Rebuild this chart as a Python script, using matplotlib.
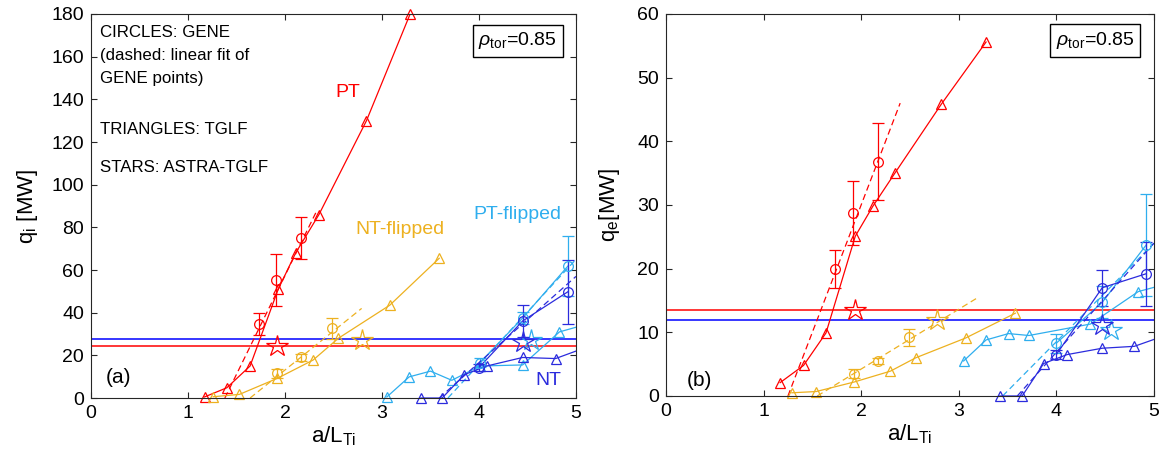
import matplotlib
matplotlib.use("Agg")
import matplotlib.pyplot as plt

plt.rcParams['font.family'] = ['Liberation Sans', 'DejaVu Sans']
plt.rcParams['mathtext.fontset'] = 'custom'
plt.rcParams['mathtext.rm'] = 'Liberation Sans'
plt.rcParams['mathtext.it'] = 'Liberation Sans:italic'

RED = '#FF0000'
ORANGE = '#EDB120'
CYAN = '#2FAEEE'
BLUE = '#2B2BDD'

#___________ panel (a): q_i ______________
# PT
pt_tglf_x = [1.17, 1.40, 1.64, 1.93, 2.11, 2.35, 2.84, 3.29]
pt_tglf_qi = [0.5, 4.8, 15, 51, 68, 86, 130, 180]
pt_gene_x = [1.73, 1.91, 2.16]
pt_gene_qi = [34.7, 55.3, 75]
pt_gene_qi_err = [5, 12, 10]
pt_fit_x_a = [1.38, 2.33]
pt_fit_qi = [0, 88]
pt_star_qi = [1.92, 24.4]
# NT-flipped
ntf_tglf_x = [1.26, 1.53, 1.92, 2.29, 2.55, 3.08, 3.59]
ntf_tglf_qi = [0.6, 1.7, 9.2, 17.8, 28, 43.5, 65.5]
ntf_gene_x = [1.92, 2.16, 2.48]
ntf_gene_qi = [11.6, 19, 32.7]
ntf_gene_qi_err = [2, 1.5, 5]
ntf_fit_x_a = [1.64, 2.79]
ntf_fit_qi = [0, 42]
ntf_star_qi = [2.79, 27.2]
# PT-flipped
ptf_tglf_x_a = [3.05, 3.28, 3.50, 3.72, 4.01, 4.45, 4.83, 5.3]
ptf_tglf_qi = [0.5, 9.9, 12.6, 8.3, 15, 15.5, 31, 37]
ptf_gene_x = [4.01, 4.45, 4.92]
ptf_gene_qi = [16.6, 37.5, 62]
ptf_gene_qi_err = [2, 3, 14]
ptf_fit_x_a = [3.68, 5.0]
ptf_fit_qi = [0, 65]
ptf_star_qi = [4.54, 27]
# NT
nt_tglf_x_a = [3.40, 3.62, 3.85, 4.08, 4.45, 4.79, 5.3]
nt_tglf_qi = [0, 0, 11, 15, 19, 18.5, 27]
nt_gene_x = [4.0, 4.45, 4.92]
nt_gene_qi = [14.3, 36.1, 49.9]
nt_gene_qi_err = [1.5, 7.5, 15]
nt_fit_x_a = [3.59, 5.0]
nt_fit_qi = [0, 57]
nt_star_qi = [4.45, 26.4]
astra_pt_qi = 24.4
astra_nt_qi = 27.8

#___________ panel (b): q_e ______________
pt_tglf_x_b = [1.17, 1.41, 1.64, 1.94, 2.12, 2.35, 2.82, 3.28]
pt_tglf_qe = [2.1, 4.8, 9.9, 25.1, 29.8, 35.1, 45.8, 55.6]
pt_gene_x_b = [1.73, 1.92, 2.17]
pt_gene_qe = [19.9, 28.7, 36.8]
pt_gene_qe_err = [3, 5, 6]
pt_fit_x_b = [1.25, 2.4]
pt_fit_qe = [0, 46]
pt_star_qe = [1.94, 13.5]

ntf_tglf_x_b = [1.29, 1.54, 1.93, 2.30, 2.56, 3.07, 3.58]
ntf_tglf_qe = [0.5, 0.7, 2.2, 3.9, 6.0, 9.1, 13]
ntf_gene_x_b = [1.93, 2.17, 2.49]
ntf_gene_qe = [3.5, 5.5, 9.2]
ntf_gene_qe_err = [0.7, 0.5, 1.3]
ntf_fit_x_b = [1.55, 3.2]
ntf_fit_qe = [0, 15.5]
ntf_star_qe = [2.78, 11.9]

ptf_tglf_x_b = [3.05, 3.28, 3.51, 3.72, 4.35, 4.84, 5.3]
ptf_tglf_qe = [5.5, 8.8, 9.8, 9.5, 11.3, 16.4, 18.3]
ptf_gene_x_b = [4.0, 4.47, 4.92]
ptf_gene_qe = [8.3, 14.7, 23.7]
ptf_gene_qe_err = [1.5, 2.5, 8]
ptf_fit_x_b = [3.45, 5.0]
ptf_fit_qe = [0, 24]
ptf_star_qe = [4.56, 10.4]

nt_tglf_x_b = [3.42, 3.65, 3.87, 4.11, 4.47, 4.80, 5.3]
nt_tglf_qe = [0, 0, 5.1, 6.5, 7.5, 7.8, 10.5]
nt_gene_x_b = [4.0, 4.47, 4.92]
nt_gene_qe = [6.5, 17, 19.2]
nt_gene_qe_err = [0.7, 2.8, 5]
nt_fit_x_b = [3.6, 5.0]
nt_fit_qe = [0, 24]
nt_star_qe = [4.47, 11.2]
astra_pt_qe = 13.5
astra_nt_qe = 12.0


def series(ax, tx, ty, gx, gy, ge, fx, fy, star, col, join_gene=False):
    # line is clipped at the frame, markers are not (like matlab)
    ax.plot(tx, ty, '-', color=col, lw=0.9)
    inside = [(x, y) for x, y in zip(tx, ty) if x <= 5]
    ax.plot([p[0] for p in inside], [p[1] for p in inside], '^', color=col,
            ms=7, mfc='none', mew=0.9, clip_on=False)
    ax.errorbar(gx, gy, yerr=ge, fmt='o', color=col, ms=7, mfc='none',
                mew=0.9, elinewidth=0.9, capsize=4)
    if join_gene:
        ax.plot(gx, gy, '-', color=col, lw=0.9)
    ax.plot(fx, fy, '--', color=col, lw=0.9, dashes=(5, 3))
    ax.plot(star[0], star[1], '*', color=col, ms=16, mfc='none', mew=0.9,
            clip_on=False)


def style(ax, ymax, ystep, ylabel, tag):
    ax.set_xlim(0, 5)
    ax.set_ylim(0, ymax)
    ax.set_xticks(range(6))
    ax.set_yticks(range(0, ymax + 1, ystep))
    ax.tick_params(direction='in', top=True, right=True, length=4,
                   labelsize=14, color='#262626', width=0.8, pad=5)
    for s in ax.spines.values():
        s.set_color('#262626')
        s.set_linewidth(0.8)
        s.set_zorder(5)
    ax.set_xlabel(r'a/L$_{\rm Ti}$', fontsize=16)
    ax.set_ylabel(ylabel, fontsize=16)
    ax.xaxis.set_label_coords(0.5, -0.07)
    ax.text(0.88, 0.93, r'$\rho_{\rm tor}$=0.85', transform=ax.transAxes,
            ha='center', va='center', fontsize=14,
            bbox=dict(boxstyle='square,pad=0.3', fc='white', ec='black', lw=1))
    ax.text(tag[0], tag[1], tag[2], fontsize=15, ha='center', va='center')


fig = plt.figure(figsize=(11.61, 4.62), dpi=100)
ax1 = fig.add_axes([0.0784, 0.1385, 0.4177, 0.8312])
ax2 = fig.add_axes([0.5736, 0.1429, 0.4203, 0.8268])

ax1.axhline(astra_nt_qi, color='#0000FF', lw=1.1)
ax1.axhline(astra_pt_qi, color=RED, lw=1.1)
series(ax1, pt_tglf_x, pt_tglf_qi, pt_gene_x, pt_gene_qi, pt_gene_qi_err,
       pt_fit_x_a, pt_fit_qi, pt_star_qi, RED)
series(ax1, ntf_tglf_x, ntf_tglf_qi, ntf_gene_x, ntf_gene_qi, ntf_gene_qi_err,
       ntf_fit_x_a, ntf_fit_qi, ntf_star_qi, ORANGE)
series(ax1, ptf_tglf_x_a, ptf_tglf_qi, ptf_gene_x, ptf_gene_qi, ptf_gene_qi_err,
       ptf_fit_x_a, ptf_fit_qi, ptf_star_qi, CYAN, join_gene=True)
series(ax1, nt_tglf_x_a, nt_tglf_qi, nt_gene_x, nt_gene_qi, nt_gene_qi_err,
       nt_fit_x_a, nt_fit_qi, nt_star_qi, BLUE, join_gene=True)
style(ax1, 180, 20, r'q$_{\rm i}$ [MW]', (0.28, 9.5, '(a)'))
ax1.yaxis.set_label_coords(-0.105, 0.5)

ax1.text(2.65, 143, 'PT', color=RED, fontsize=14, ha='center', va='center')
ax1.text(3.19, 79, 'NT-flipped', color=ORANGE, fontsize=14, ha='center', va='center')
ax1.text(4.40, 86, 'PT-flipped', color=CYAN, fontsize=14, ha='center', va='center')
ax1.text(4.72, 8, 'NT', color=BLUE, fontsize=14, ha='center', va='center')
for yy, txt in [(0.951, 'CIRCLES: GENE'), (0.891, '(dashed: linear fit of'),
                (0.831, 'GENE points)'), (0.70, 'TRIANGLES: TGLF'),
                (0.599, 'STARS: ASTRA-TGLF')]:
    ax1.text(0.019, yy, txt, transform=ax1.transAxes, fontsize=12.2,
             ha='left', va='center')

ax2.axhline(astra_pt_qe, color=RED, lw=1.1)
ax2.axhline(astra_nt_qe, color='#0000FF', lw=1.1)
series(ax2, pt_tglf_x_b, pt_tglf_qe, pt_gene_x_b, pt_gene_qe, pt_gene_qe_err,
       pt_fit_x_b, pt_fit_qe, pt_star_qe, RED)
series(ax2, ntf_tglf_x_b, ntf_tglf_qe, ntf_gene_x_b, ntf_gene_qe, ntf_gene_qe_err,
       ntf_fit_x_b, ntf_fit_qe, ntf_star_qe, ORANGE)
series(ax2, ptf_tglf_x_b, ptf_tglf_qe, ptf_gene_x_b, ptf_gene_qe, ptf_gene_qe_err,
       ptf_fit_x_b, ptf_fit_qe, ptf_star_qe, CYAN, join_gene=True)
series(ax2, nt_tglf_x_b, nt_tglf_qe, nt_gene_x_b, nt_gene_qe, nt_gene_qe_err,
       nt_fit_x_b, nt_fit_qe, nt_star_qe, BLUE, join_gene=True)
style(ax2, 60, 10, r'q$_{\rm e}$[MW]', (0.34, 2.5, '(b)'))
ax2.yaxis.set_label_coords(-0.09, 0.5)

fig.savefig('out.png', dpi=100)
